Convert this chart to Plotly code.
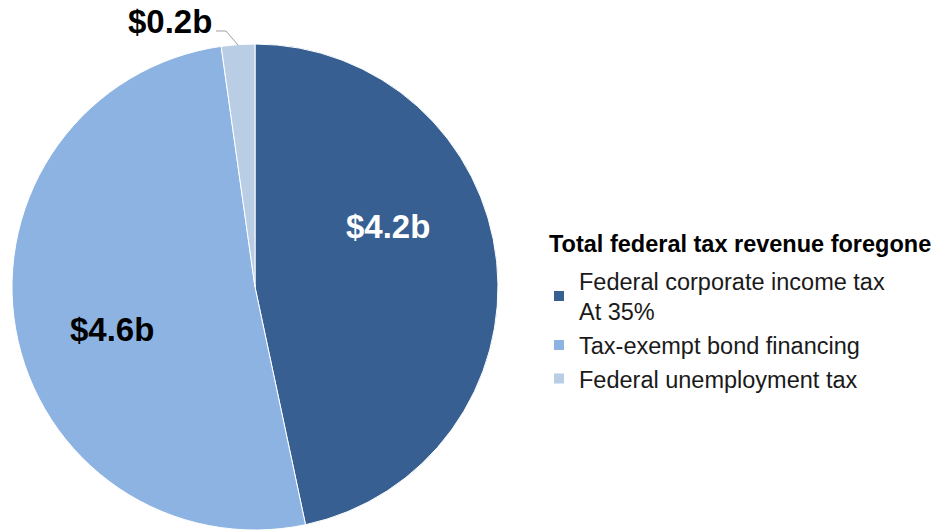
import plotly.graph_objects as go

categories = ["Federal corporate income tax<br>At 35%", "Tax-exempt bond financing", "Federal unemployment tax"]
values = [4.2, 4.6, 0.2]
value_labels = ["$4.2b", "$4.6b", "$0.2b"]
legend_title = "Total federal tax revenue foregone"
colors = ["#375F92", "#8DB3E2", "#B9CDE5"]

W, H = 931, 531

fig = go.Figure(go.Pie(
    labels=categories,
    values=values,
    sort=False,
    direction="clockwise",
    rotation=0,
    marker=dict(colors=colors, line=dict(color="white", width=1)),
    textinfo="none",
    hoverinfo="label+value",
    domain=dict(x=[12 / W, 498 / W], y=[1 / H, 487 / H]),
))

font_family = "Liberation Sans, Arial, sans-serif"
annotations = [
    dict(x=388 / W, y=1 - 226 / H, text=f"<b>{value_labels[0]}</b>",
         font=dict(size=33, color="white", family=font_family)),
    dict(x=112 / W, y=1 - 329 / H, text=f"<b>{value_labels[1]}</b>",
         font=dict(size=33, color="black", family=font_family)),
    dict(x=170 / W, y=1 - 22 / H, text=f"<b>{value_labels[2]}</b>",
         font=dict(size=33, color="black", family=font_family)),
]
for a in annotations:
    a.update(xanchor="center")
annotations.append(dict(x=547 / W, y=1 - 244 / H, text=f"<b>{legend_title}</b>", xanchor="left",
                        font=dict(size=23.5, color="black", family=font_family)))
for a in annotations:
    a.update(xref="paper", yref="paper", showarrow=False, yanchor="middle")

fig.update_layout(
    width=W, height=H,
    margin=dict(l=0, r=0, t=0, b=0),
    paper_bgcolor="white",
    plot_bgcolor="white",
    font=dict(family=font_family, size=23, color="#1a1a1a"),
    annotations=annotations,
    shapes=[dict(type="path", xref="paper", yref="paper",
                 path=f"M {216/W},{1-31/H} L {226/W},{1-31/H} L {238/W},{1-45/H}",
                 line=dict(color="#A0A0A0", width=1))],
    legend=dict(
        x=539 / W, y=1 - 259 / H, xanchor="left", yanchor="top",
        font=dict(size=23.5, color="#1a1a1a"),
        itemsizing="constant",
        tracegroupgap=0,
    ),
)

fig.write_html("out.html", config={"displayModeBar": False},
               post_script="document.body.style.margin='0';document.body.style.overflow='hidden';")
